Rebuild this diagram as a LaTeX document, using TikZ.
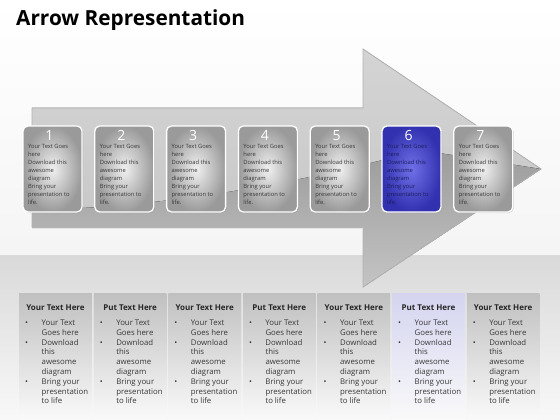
\documentclass[tikz,border=0pt]{standalone}
\usepackage{fontspec}
\setmainfont{Open Sans}
\usetikzlibrary{positioning,shadows}

\definecolor{cardin}{HTML}{F0F0F0}
\definecolor{cardout}{HTML}{9A9A9A}
\definecolor{bluein}{HTML}{7070E8}
\definecolor{blueout}{HTML}{3232B0}
\definecolor{cardtxt}{HTML}{383838}
\definecolor{bluetxt}{HTML}{1C1C5C}
\definecolor{colgray}{HTML}{C0C0C0}
\definecolor{collav}{HTML}{D4D4F0}
\definecolor{arrowlight}{HTML}{D4D4D4}
\definecolor{arrowmid}{HTML}{C4C4C4}
\definecolor{arrowdark}{HTML}{9C9C9C}
\definecolor{bandgray}{HTML}{D9D9D9}

\tikzset{
	stepcard/.style={rounded corners=5pt, draw=white, line width=1.3pt, minimum width=59pt, minimum height=86pt, inner sep=0pt, drop shadow={opacity=0.3,shadow xshift=1pt,shadow yshift=-1pt}},
	cardnum/.style={font=\fontsize{14}{14}\selectfont, text=white, inner sep=0pt},
	cardtext/.style={font=\fontsize{5.8}{7.9}\selectfont, align=left, anchor=north west, inner sep=0pt},
	infocol/.style={minimum width=72.6pt, minimum height=127pt, anchor=north west, inner sep=0pt, bottom color=white!96!gray},
	colhead/.style={font=\bfseries\fontsize{8}{8}\selectfont, text=black!85},
	colbody/.style={font=\fontsize{7.8}{9.8}\selectfont, anchor=north west, inner sep=0pt, text=cardtxt},
	arrowedge/.style={draw=gray!60, line width=0.8pt},
}

\begin{document}
\begin{tikzpicture}[x=1pt,y=-1pt]
	\useasboundingbox (0,0) rectangle (560,420);
	% background and lower band
	\fill[top color=white, bottom color=gray!8] (0,0) rectangle (560,255);
	\fill[top color=bandgray, bottom color=gray!5] (0,255) rectangle (560,420);

	\node[anchor=base west, inner sep=0pt, font=\bfseries\fontsize{20.8}{22}\selectfont] (title) at (16,26) {Arrow Representation};

	% the big arrow
	\coordinate (shaftNW) at (32,108);
	\coordinate (headN) at (363,108);
	\coordinate (headTop) at (363,49);
	\coordinate (tip) at (541,169);
	\coordinate (headBot) at (363,287);
	\coordinate (headS) at (363,227);
	\coordinate (shaftSW) at (32,227);
	\fill[top color=arrowlight, bottom color=arrowmid] (shaftNW) -- (headN) -- (headTop) -- (tip) -- (headBot) -- (headS) -- (shaftSW) -- cycle;
	\begin{scope}
		\clip (shaftNW) -- (headN) -- (headTop) -- (tip) -- (headBot) -- (headS) -- (shaftSW) -- cycle;
		\fill[top color=arrowdark, bottom color=arrowmid] (32,210) .. controls (180,207) and (320,178) .. (420,150) -- (tip) -- (headBot) -- (headS) -- (shaftSW) -- cycle;
	\end{scope}
	\draw[arrowedge] (shaftNW) -- (headN) -- (headTop) -- (tip) -- (headBot) -- (headS) -- (shaftSW) -- cycle;
	\draw[white!80!gray, line width=1pt] ([yshift=-1.5pt]shaftSW) -- ([yshift=-1.5pt]headS);

	% the seven cards
	\foreach \i/\ci/\co/\tc in {1/cardin/cardout/cardtxt, 2/cardin/cardout/cardtxt, 3/cardin/cardout/cardtxt, 4/cardin/cardout/cardtxt, 5/cardin/cardout/cardtxt, 6/bluein/blueout/bluetxt, 7/cardin/cardout/cardtxt} {
		\node[stepcard, inner color=\ci, outer color=\co] (card\i) at ({52.5+71.8*(\i-1)},169) {};
		\node[cardnum] (num\i) at ([xshift=-3pt,yshift=-10pt]card\i.north) {\i};
		\node[cardtext, text=\tc] (txt\i) at ([xshift=5.5pt,yshift=-19pt]card\i.north west) {Your Text Goes\\here\\Download this\\awesome\\diagram\\Bring your\\presentation to\\life.};
	}

	% the seven text columns
	\foreach \i/\head/\ctop in {1/Your/colgray, 2/Put/colgray, 3/Your/colgray, 4/Put/colgray, 5/Your/colgray, 6/Put/collav, 7/Your/colgray} {
		\node[infocol, top color=\ctop] (col\i) at ({19+74.6*(\i-1)},293) {};
		\node[colhead] (head\i) at ([yshift=-14.5pt]col\i.north) {\head{} Text Here};
		\node[colbody] (body\i) at ([xshift=6pt,yshift=-25.5pt]col\i.north west) {
			\begin{tabular}{@{}p{16.5pt}@{}l@{}}
				\textbullet & Your Text \\
				& Goes here \\
				\textbullet & Download \\
				& this \\
				& awesome \\
				& diagram \\
				\textbullet & Bring your \\
				& presentation \\
				& to life
			\end{tabular}
		};
	}
\end{tikzpicture}
\end{document}
